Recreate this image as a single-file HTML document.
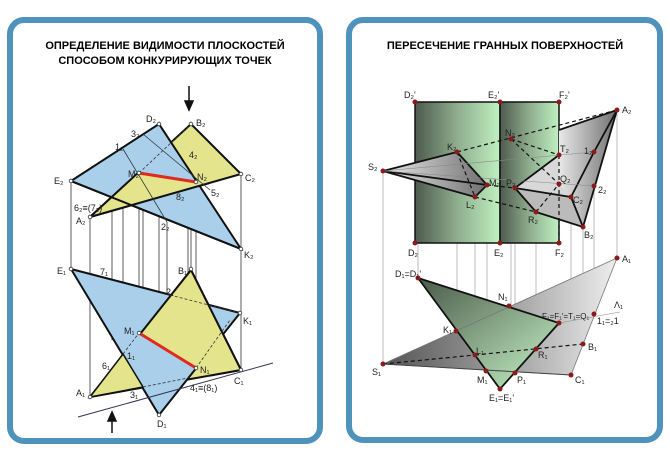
<!DOCTYPE html>
<html><head><meta charset="utf-8"><style>
html,body{margin:0;padding:0;background:#fff;}
svg{display:block;font-family:"Liberation Sans",sans-serif;}
</style></head><body>
<svg width="670" height="453" viewBox="0 0 670 453" xmlns="http://www.w3.org/2000/svg">
<defs>
<linearGradient id="pr" x1="0" x2="1" y1="0" y2="0">
<stop offset="0" stop-color="#4e5a4e"/><stop offset="0.5" stop-color="#8fae8e"/><stop offset="1" stop-color="#bff0c0"/></linearGradient>
<linearGradient id="py" x1="0" x2="1" y1="0" y2="0">
<stop offset="0" stop-color="#e8e8e8"/><stop offset="1" stop-color="#707070"/></linearGradient>
<linearGradient id="py2" x1="0" x2="1" y1="0" y2="0">
<stop offset="0" stop-color="#555"/><stop offset="0.6" stop-color="#aaa"/><stop offset="1" stop-color="#eee"/></linearGradient>
<linearGradient id="tg" x1="0" x2="1" y1="0" y2="1">
<stop offset="0" stop-color="#4a5a4a"/><stop offset="1" stop-color="#c8f5c8"/></linearGradient>
<clipPath id="ctop"><polygon points="0,151 670,257 670,453 0,453"/></clipPath>
<clipPath id="cbot"><polygon points="0,248 670,659 670,0 0,0"/></clipPath>
</defs>
<rect x="0" y="0" width="670" height="453" fill="#fff"/>
<rect x="10" y="20" width="310" height="421" rx="14" fill="#fff" stroke="#4f93bd" stroke-width="6"/>
<rect x="349" y="20" width="311" height="420" rx="14" fill="#fff" stroke="#4f93bd" stroke-width="6"/>
<text x="165" y="49" font-size="11" font-weight="bold" text-anchor="middle">ОПРЕДЕЛЕНИЕ ВИДИМОСТИ ПЛОСКОСТЕЙ</text>
<text x="165" y="64" font-size="11" font-weight="bold" text-anchor="middle">СПОСОБОМ КОНКУРИРУЮЩИХ ТОЧЕК</text>
<text x="505" y="49" font-size="11" font-weight="bold" text-anchor="middle">ПЕРЕСЕЧЕНИЕ ГРАННЫХ ПОВЕРХНОСТЕЙ</text>

<!-- LEFT -->
<g stroke="#333" stroke-width="0.8">
<line x1="71" y1="181" x2="71" y2="269"/><line x1="90" y1="217" x2="90" y2="397"/>
<line x1="123" y1="149" x2="123" y2="354"/><line x1="143" y1="134" x2="143" y2="387"/>
<line x1="159" y1="124" x2="159" y2="415"/><line x1="191" y1="124" x2="191" y2="269"/>
<line x1="241" y1="174" x2="241" y2="370"/><line x1="167" y1="222" x2="167" y2="295"/>
<line x1="139" y1="173" x2="139" y2="333"/><line x1="196" y1="182" x2="196" y2="368"/>
<line x1="188" y1="160" x2="188" y2="378"/><line x1="112" y1="200" x2="112" y2="340"/>
</g>
<polygon points="90,217 191,124 241,174" fill="#e3e48c" stroke="#111" stroke-width="2"/>
<polygon points="71,181 159,124 241,249" fill="#a9cfea" stroke="#111" stroke-width="2"/>
<polygon points="90,217 191,124 241,174" fill="#e3e48c" stroke="#111" stroke-width="2" clip-path="url(#ctop)"/>
<line x1="71" y1="181" x2="241" y2="249" stroke="#111" stroke-width="2"/>
<line x1="139" y1="173" x2="196" y2="182" stroke="#e02a20" stroke-width="3"/>
<g stroke="#333" stroke-width="0.8" fill="none"><line x1="123" y1="149" x2="167" y2="222"/><line x1="143" y1="134" x2="210" y2="190"/><line x1="139" y1="173" x2="191" y2="124" stroke-dasharray="3,2"/></g>

<polygon points="90,397 191,270 241,370" fill="#e3e48c" stroke="#111" stroke-width="2"/>
<polygon points="71,269 240,313 159,415" fill="#a9cfea" stroke="#111" stroke-width="2"/>
<polygon points="90,397 191,270 241,370" fill="#e3e48c" stroke="#111" stroke-width="2" clip-path="url(#cbot)"/>
<polygon points="90,397 123,354 143,387" fill="#e3e48c" stroke="#111" stroke-width="1.5"/>
<line x1="78" y1="417" x2="273" y2="363" stroke="#335" stroke-width="1"/>
<line x1="139" y1="333" x2="196" y2="368" stroke="#e02a20" stroke-width="3"/>
<g stroke="#333" stroke-width="0.8" stroke-dasharray="3,2" fill="none"><line x1="143" y1="387" x2="188" y2="378"/><line x1="170" y1="295" x2="240" y2="313"/><line x1="123" y1="354" x2="139" y2="333"/><line x1="196" y1="368" x2="230" y2="320"/></g>
<g fill="#fff" stroke="#333" stroke-width="0.8">
<circle cx="71" cy="181" r="1.8"/><circle cx="90" cy="217" r="1.8"/><circle cx="159" cy="124" r="1.8"/><circle cx="191" cy="124" r="1.8"/><circle cx="241" cy="174" r="1.8"/><circle cx="241" cy="249" r="1.8"/><circle cx="139" cy="173" r="1.8"/><circle cx="196" cy="182" r="1.8"/>
<circle cx="71" cy="269" r="1.8"/><circle cx="191" cy="269" r="1.8"/><circle cx="240" cy="313" r="1.8"/><circle cx="159" cy="415" r="1.8"/><circle cx="90" cy="397" r="1.8"/><circle cx="241" cy="370" r="1.8"/><circle cx="139" cy="333" r="1.8"/><circle cx="196" cy="368" r="1.8"/>
</g>
<g font-size="9" fill="#222">
<text x="146" y="122">D₂</text><text x="196" y="126">B₂</text><text x="131" y="137">3₂</text><text x="115" y="150">1₂</text>
<text x="54" y="184">E₂</text><text x="245" y="181">C₂</text><text x="128" y="177">M₂</text><text x="197" y="180">N₂</text>
<text x="74" y="211">6₂≡(7₂)</text><text x="76" y="224">A₂</text><text x="176" y="200">8₂</text><text x="211" y="196">5₂</text>
<text x="189" y="158">4₂</text><text x="161" y="230">2₂</text><text x="244" y="258">K₂</text>
<text x="57" y="274">E₁</text><text x="100" y="275">7₁</text><text x="178" y="274">B₁</text><text x="166" y="295">2₁</text>
<text x="243" y="324">K₁</text><text x="124" y="334">M₁</text><text x="200" y="373">N₁</text><text x="127" y="359">1₁</text>
<text x="102" y="369">6₁</text><text x="76" y="396">A₁</text><text x="130" y="398">3₁</text><text x="190" y="391">4₁≡(8₁)</text>
<text x="234" y="384">C₁</text><text x="157" y="427">D₁</text>
</g>
<g stroke="#111" stroke-width="1.5" fill="#111">
<line x1="189" y1="86" x2="189" y2="104"/><polygon points="185,101 193,101 189,110"/>
<line x1="112" y1="433" x2="112" y2="418"/><polygon points="108,421 116,421 112,412"/>
</g>

<!-- RIGHT -->
<g stroke="#aaa" stroke-width="0.8">
<line x1="383" y1="171" x2="383" y2="364"/><line x1="457" y1="152" x2="457" y2="331"/><line x1="475" y1="197" x2="475" y2="355"/>
<line x1="487" y1="185" x2="487" y2="371"/><line x1="511" y1="139" x2="511" y2="306"/><line x1="515" y1="188" x2="515" y2="373"/>
<line x1="536" y1="212" x2="536" y2="349"/><line x1="571" y1="197" x2="571" y2="375"/><line x1="583" y1="227" x2="583" y2="344"/>
<line x1="594" y1="152" x2="594" y2="314"/><line x1="617" y1="110" x2="617" y2="258"/><line x1="418" y1="243" x2="418" y2="278"/>
</g>
<rect x="415" y="102" width="85" height="141" fill="url(#pr)" stroke="#111" stroke-width="1.5"/>
<rect x="500" y="102" width="59" height="141" fill="url(#pr)" stroke="#111" stroke-width="1.5"/>
<polygon points="559,130 617,110 583,227 571,210 559,200" fill="url(#py)"/>
<polygon points="515,188 559,155 559,184 571,197" fill="#d8d8d8"/>
<polygon points="383,171 457,152 487,185 475,197" fill="url(#py)"/>
<polygon points="515,188 571,197 583,227 536,212" fill="#bbb"/>
<g stroke="#111" stroke-width="1.8" fill="none">
<polyline points="457,152 383,171 487,185"/><line x1="383" y1="171" x2="475" y2="197"/><polyline points="457,152 487,185 475,197"/>
<polyline points="559,155 515,188 536,212"/><line x1="515" y1="188" x2="571" y2="197"/>
<polyline points="536,212 583,227 617,110 559,130"/><polyline points="571,197 594,152 617,110"/><line x1="571" y1="197" x2="583" y2="227"/>
</g>
<g stroke="#111" stroke-width="1.2" stroke-dasharray="4,3" fill="none">
<line x1="457" y1="152" x2="617" y2="110"/><line x1="457" y1="152" x2="475" y2="197"/><line x1="487" y1="185" x2="515" y2="188"/>
<line x1="475" y1="197" x2="536" y2="212"/><line x1="511" y1="139" x2="559" y2="155"/><line x1="511" y1="139" x2="559" y2="184"/>
<line x1="536" y1="212" x2="559" y2="184"/><line x1="559" y1="155" x2="559" y2="243"/>
</g>
<g stroke="#888" stroke-width="0.6"><line x1="383" y1="171" x2="594" y2="152"/><line x1="383" y1="171" x2="594" y2="186"/></g>

<polygon points="383,364 617,258 571,375" fill="url(#py2)"/>
<polygon points="418,278 559,323 500,389" fill="url(#tg)" stroke="#111" stroke-width="1.8"/>
<polygon points="383,364 617,258 571,375" fill="none" stroke="#777" stroke-width="0.8"/>
<g stroke="#111" stroke-width="1.2" stroke-dasharray="4,3"><line x1="383" y1="364" x2="475" y2="355"/><line x1="475" y1="355" x2="583" y2="344"/></g>
<line x1="383" y1="364" x2="571" y2="375" stroke="#444" stroke-width="1"/>
<line x1="559" y1="323" x2="620" y2="312" stroke="#888" stroke-width="0.6"/>
<g fill="#8b1a1a">
<circle cx="415" cy="102" r="2.5"/><circle cx="500" cy="102" r="2.5"/><circle cx="559" cy="102" r="2.5"/>
<circle cx="415" cy="243" r="2.5"/><circle cx="500" cy="243" r="2.5"/><circle cx="559" cy="243" r="2.5"/>
<circle cx="617" cy="110" r="2.5"/><circle cx="383" cy="171" r="2.5"/><circle cx="457" cy="152" r="2.5"/><circle cx="487" cy="185" r="2.5"/>
<circle cx="475" cy="197" r="2.5"/><circle cx="511" cy="139" r="2.5"/><circle cx="559" cy="155" r="2.5"/><circle cx="594" cy="152" r="2.5"/>
<circle cx="515" cy="188" r="2.5"/><circle cx="559" cy="184" r="2.5"/><circle cx="571" cy="197" r="2.5"/><circle cx="594" cy="186" r="2.5"/>
<circle cx="536" cy="212" r="2.5"/><circle cx="583" cy="227" r="2.5"/>
<circle cx="617" cy="258" r="2.5"/><circle cx="418" cy="278" r="2.5"/><circle cx="509" cy="306" r="2.5"/><circle cx="559" cy="323" r="2.5"/>
<circle cx="594" cy="314" r="2.5"/><circle cx="456" cy="331" r="2.5"/><circle cx="475" cy="355" r="2.5"/><circle cx="536" cy="349" r="2.5"/>
<circle cx="583" cy="344" r="2.5"/><circle cx="383" cy="364" r="2.5"/><circle cx="486" cy="371" r="2.5"/><circle cx="515" cy="373" r="2.5"/>
<circle cx="571" cy="375" r="2.5"/><circle cx="500" cy="389" r="2.5"/>
</g>
<g font-size="9" fill="#222">
<text x="404" y="98">D₂'</text><text x="488" y="98">E₂'</text><text x="559" y="98">F₂'</text><text x="622" y="113">A₂</text>
<text x="368" y="170">S₂</text><text x="447" y="150">K₂</text><text x="505" y="136">N₂</text><text x="560" y="152">T₂</text><text x="584" y="154">1₂</text>
<text x="489" y="186">M₂</text><text x="506" y="186">P₂</text><text x="560" y="182">Q₂</text><text x="466" y="208">L₂</text><text x="573" y="203">C₂</text><text x="598" y="193">2₂</text>
<text x="528" y="223">R₂</text><text x="584" y="238">B₂</text>
<text x="408" y="256">D₂</text><text x="494" y="256">E₂</text><text x="555" y="256">F₂</text>
<text x="622" y="262">A₁</text><text x="395" y="277">D₁=D₁'</text><text x="498" y="300">N₁</text>
<text x="542" y="319" font-size="8">F₁=F₁'=T₁=Q₁</text><text x="614" y="308">Λ₁</text><text x="597" y="324">1₁=₂1</text>
<text x="443" y="333">K₁</text><text x="476" y="354">L₁</text><text x="538" y="358">R₁</text><text x="588" y="350">B₁</text>
<text x="372" y="375">S₁</text><text x="477" y="383">M₁</text><text x="517" y="383">P₁</text><text x="575" y="383">C₁</text><text x="489" y="401">E₁=E₁'</text>
</g>
</svg>
</body></html>
